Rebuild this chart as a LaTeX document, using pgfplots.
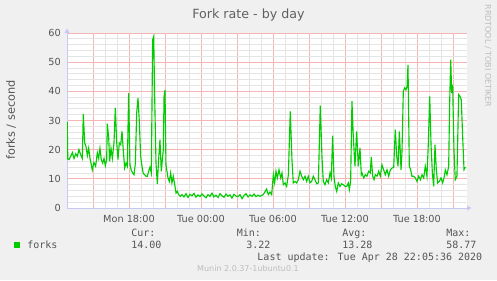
\documentclass[border=0pt]{standalone}
\usepackage{pgfplots}
\pgfplotsset{compat=1.18}
\usepackage{fontspec}
\setmainfont{DejaVu Sans}
\newfontfamily\monofont{DejaVu Sans Mono}
\usetikzlibrary{arrows.meta}
\definecolor{bg}{HTML}{F0F0F0}
\definecolor{majgrid}{HTML}{F7B4B4}
\definecolor{mingrid}{HTML}{E4E4E4}
\definecolor{axcol}{HTML}{C8C8F4}
\definecolor{txt}{HTML}{555555}
\definecolor{ttl}{HTML}{606060}
\definecolor{faint}{HTML}{BDBDBD}
\definecolor{lineg}{HTML}{00CC00}

\pgfplotstableread{
x y
12.85 29.5
12.90 16.8
13.00 16.6
13.14 17.7
13.28 19.0
13.42 17.0
13.56 18.6
13.69 17.7
13.83 20.0
13.97 18.3
14.11 17.0
14.19 32.2
14.31 22.3
14.42 21.0
14.53 18.0
14.64 20.5
14.75 17.0
14.86 14.8
14.94 13.0
15.08 15.6
15.22 14.3
15.36 18.9
15.47 17.0
15.58 20.5
15.69 16.6
15.81 15.4
15.92 17.0
16.03 14.5
16.14 16.6
16.19 28.9
16.31 24.0
16.39 16.0
16.50 20.5
16.61 17.0
16.75 22.3
16.86 34.3
16.97 22.9
17.08 16.6
17.19 22.3
17.31 21.7
17.42 26.3
17.53 19.4
17.64 13.7
17.75 15.4
17.86 14.3
17.97 39.4
18.08 14.8
18.19 13.0
18.31 12.0
18.42 11.4
18.53 15.4
18.64 32.6
18.75 37.7
18.86 29.7
18.97 17.7
19.08 14.3
19.19 11.8
19.31 11.4
19.42 10.9
19.53 10.9
19.64 12.6
19.75 14.0
19.86 12.0
19.97 57.7
20.06 58.77
20.14 38.0
20.25 15.4
20.36 8.3
20.47 16.6
20.58 23.4
20.69 12.6
20.86 20.0
20.92 38.0
21.00 40.5
21.08 14.8
21.25 10.3
21.36 9.1
21.47 12.0
21.58 8.6
21.69 10.9
21.81 8.0
21.92 5.1
22.03 5.7
22.14 4.6
22.28 4.0
22.42 4.6
22.58 3.8
22.75 4.9
22.92 3.6
23.08 4.7
23.25 4.2
23.42 5.0
23.58 3.7
23.75 4.5
23.92 3.9
24.08 4.8
24.25 4.1
24.42 3.5
24.58 4.6
24.75 4.0
24.92 5.1
25.08 3.8
25.25 4.4
25.42 3.6
25.58 4.9
25.75 4.2
25.92 3.7
26.08 4.8
26.25 4.0
26.42 4.5
26.58 3.4
26.75 4.7
26.92 4.1
27.08 3.9
27.25 4.6
27.42 3.22
27.58 4.3
27.75 4.9
27.92 3.8
28.08 4.5
28.25 4.0
28.42 4.8
28.58 3.9
28.75 4.4
28.92 4.0
29.19 4.6
29.47 6.5
29.61 4.6
29.75 5.5
29.89 4.6
30.03 11.4
30.14 8.6
30.25 12.6
30.36 10.3
30.50 13.1
30.64 10.3
30.75 12.0
30.86 8.0
31.00 8.6
31.14 7.4
31.28 11.4
31.44 33.1
31.58 16.6
31.69 8.6
31.83 9.1
31.97 8.6
32.11 9.7
32.25 12.6
32.39 10.9
32.53 9.7
32.67 10.9
32.81 9.1
32.94 10.9
33.08 8.6
33.22 9.1
33.36 10.9
33.50 9.7
33.64 8.3
33.78 8.6
33.94 35.1
34.08 17.7
34.19 9.1
34.33 8.0
34.47 9.7
34.61 8.6
34.75 12.0
34.86 10.3
34.97 24.8
35.08 10.9
35.19 7.4
35.31 5.7
35.44 8.6
35.58 7.4
35.72 8.3
35.86 8.0
36.00 7.4
36.14 7.4
36.28 8.6
36.36 6.3
36.47 9.1
36.58 36.6
36.69 24.6
36.83 14.3
36.97 26.3
37.11 14.3
37.25 20.6
37.36 11.4
37.42 12.0
37.56 10.3
37.69 11.4
37.83 10.9
37.97 12.6
38.11 12.0
38.19 17.5
38.31 10.9
38.42 9.7
38.53 11.4
38.67 10.9
38.81 12.6
38.94 10.9
39.08 14.8
39.22 13.1
39.36 11.4
39.50 13.1
39.64 10.9
39.78 13.1
39.92 13.7
40.06 14.0
40.19 26.9
40.31 17.7
40.42 14.3
40.53 26.3
40.67 13.1
40.75 19.4
40.86 40.0
40.97 41.2
41.08 40.5
41.17 41.7
41.25 49.1
41.36 14.3
41.47 13.1
41.58 10.9
41.72 10.9
41.86 10.3
42.00 9.1
42.14 10.9
42.28 9.7
42.42 11.4
42.56 10.3
42.69 14.3
42.83 10.9
42.94 21.7
43.06 38.3
43.17 21.7
43.28 12.0
43.39 7.4
43.50 21.7
43.61 13.1
43.72 8.6
43.86 9.1
44.00 10.3
44.14 8.6
44.28 10.9
44.36 13.1
44.50 11.4
44.64 14.3
44.72 35.7
44.81 50.9
44.89 39.4
44.97 42.3
45.08 20.0
45.19 9.7
45.33 10.9
45.47 38.9
45.58 38.3
45.69 37.1
45.81 24.0
45.92 13.1
46.03 14.0
}\forks

\begin{document}
\begin{tikzpicture}
\fill[bg] (0,0) rectangle (372.75pt,210pt);
\begin{axis}[
  at={(50.25pt,54pt)}, anchor=south west,
  scale only axis, width=300pt, height=131.25pt,
  xmin=12.8333, xmax=46.1667, ymin=0, ymax=60,
  axis background/.style={fill=white},
  axis lines=left,
  axis line style={draw=axcol, line width=0.75pt},
  x axis line style={-{Triangle[length=3.5pt,width=3.5pt]}, shorten >=-3.5pt},
  y axis line style={-{Triangle[length=3.5pt,width=3.5pt]}, shorten >=-3.5pt},
  xtick={15,18,...,45},
  xticklabels={,Mon 18:00,,Tue 00:00,,Tue 06:00,,Tue 12:00,,Tue 18:00,},
  minor x tick num=2,
  ytick={0,10,...,60},
  minor y tick num=4,
  xmajorgrids, ymajorgrids, xminorgrids, yminorgrids,
  major grid style={solid, draw=majgrid, line width=0.6pt},
  minor grid style={solid, draw=mingrid, line width=0.6pt},
  major tick length=0pt, minor tick length=0pt,
  tick label style={font=\fontsize{7.3}{8}\selectfont, text=txt},
  xticklabel style={anchor=north, inner sep=0pt, yshift=-4.9pt},
  yticklabel style={anchor=east, inner sep=0pt, xshift=-4.5pt},
  /pgf/number format/assume math mode=true,
]
\addplot[lineg, line width=0.85pt] table[x=x,y=y] {\forks};
\end{axis}
\begin{scope}[x=0.75pt,y=0.75pt]
\node[anchor=base, inner sep=0pt, text=ttl, font=\fontsize{9.5}{11}\selectfont] at (248.5,262) {Fork rate - by day};
\node[rotate=90, anchor=base, inner sep=0pt, text=txt, font=\fontsize{8.5}{10}\selectfont] at (15,160) {forks / second};
\node[rotate=-90, anchor=center, inner sep=0pt, text=faint, font=\fontsize{6}{7}\selectfont] at (488,224) {RRDTOOL / TOBI OETIKER};
\fill[lineg] (14,32) rectangle (20,38);
\begin{scope}[every node/.style={inner sep=0pt, text=txt, font=\monofont\fontsize{7.5}{9}\selectfont}]
\node[anchor=base west] at (27,32) {forks};
\node[anchor=base west] at (131,44) {Cur:};
\node[anchor=base west] at (131,32) {14.00};
\node[anchor=base west] at (236.5,44) {Min:};
\node[anchor=base west] at (246,32) {3.22};
\node[anchor=base west] at (342,44) {Avg:};
\node[anchor=base west] at (342,32) {13.28};
\node[anchor=base west] at (446,44) {Max:};
\node[anchor=base west] at (446,32) {58.77};
\node[anchor=base east] at (482.5,20) {Last update: Tue Apr 28 22:05:36 2020};
\end{scope}
\node[anchor=base, inner sep=0pt, text=faint, font=\fontsize{6}{7}\selectfont] at (248,8.5) {Munin 2.0.37-1ubuntu0.1};
\end{scope}
\pgfresetboundingbox
\useasboundingbox (0,0) rectangle (372.75pt,210pt);
\end{tikzpicture}
\end{document}
